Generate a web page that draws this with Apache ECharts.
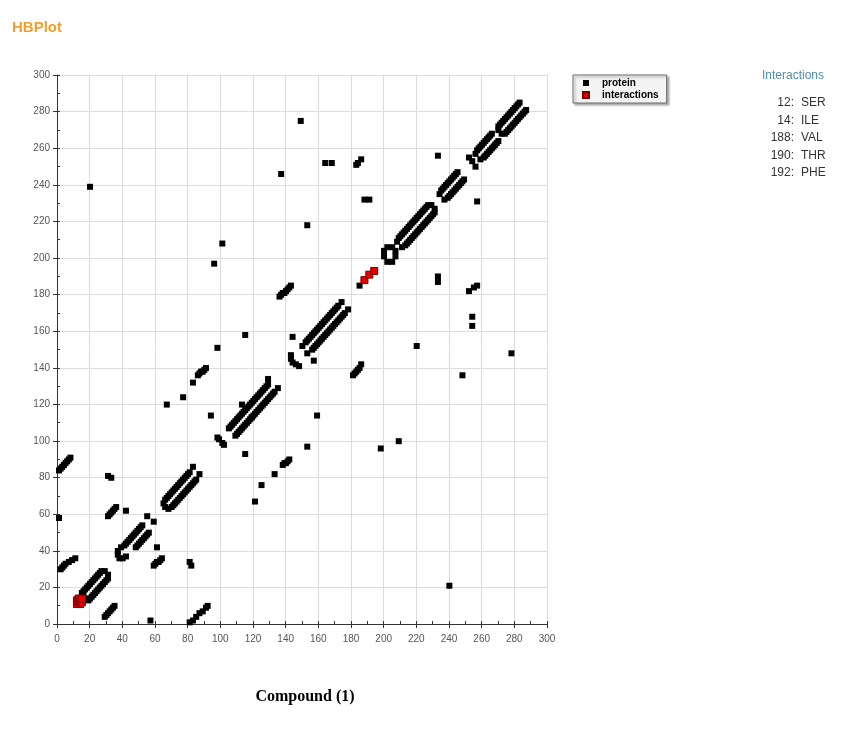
<!DOCTYPE html>
<html>
<head>
<meta charset="utf-8">
<script src="https://cdn.jsdelivr.net/npm/echarts@6/dist/echarts.min.js"></script>
<style>
html,body{margin:0;padding:0;background:#fff;}
#chart{width:841px;height:740px;}
</style>
</head>
<body>
<div id="chart"></div>
<script>
// ---------- axis ----------
const axisMin = 0, axisMax = 300, majorStep = 20, minorStep = 10;

// ---------- legend / panel ----------
const seriesNames = ['protein', 'interactions'];
const interactionResidues = ['12', '14', '188', '190', '192'];
const interactionNames = ['SER', 'ILE', 'VAL', 'THR', 'PHE'];

// ---------- protein contacts: bands along the diagonal ----------
const bandA = [[14,18],[15,19],[16,20],[17,21],[18,22],[19,23],[20,24],[21,25],[22,26],[23,27],[24,28],[25,29],[26,30],
  [18,14],[19,15],[20,16],[21,17],[22,18],[23,19],[24,20],[25,21],[26,22],[27,23],[28,24],[29,25],[30,26],
  [15,16],[16,15],[28,30],[30,28]];
const bandB = [[40,44],[41,45],[42,46],[43,47],[44,48],[45,49],[46,50],[47,51],[48,52],[49,53],[50,54],[51,55],
  [47,43],[48,44],[49,45],[50,46],[51,47],[52,48],[53,49],[54,50],[55,51],
  [38,43],[36,41],[36,39],[37,37],[39,37],[41,38]];
const bandC = [[65,69],[66,70],[67,71],[68,72],[69,73],[70,74],[71,75],[72,76],[73,77],[74,78],[75,79],[76,80],[77,81],[78,82],[79,83],[80,84],
  [69,65],[70,66],[71,67],[72,68],[73,69],[74,70],[75,71],[76,72],[77,73],[78,74],[79,75],[80,76],[81,77],[82,78],[83,79],[84,80],
  [64,67],[65,65],[67,64],[82,87],[86,83]];
const bandD = [[97,103],[98,102],[100,100],[101,99]];
const bandE = [[104,108],[105,109],[106,110],[107,111],[108,112],[109,113],[110,114],[111,115],[112,116],[113,117],[114,118],[115,119],[116,120],[117,121],[118,122],[119,123],[120,124],[121,125],[122,126],[123,127],[124,128],[125,129],[126,130],[127,131],[128,132],
  [108,104],[109,105],[110,106],[111,107],[112,108],[113,109],[114,110],[115,111],[116,112],[117,113],[118,114],[119,115],[120,116],[121,117],[122,118],[123,119],[124,120],[125,121],[126,122],[127,123],[128,124],[129,125],[130,126],[131,127],[132,128],
  [112,121],[118,114],[128,135],[134,130]];
const bandF = [[142,148],[142,146],[143,144],[145,143],[147,142]];
const bandG = [[151,155],[152,156],[153,157],[154,158],[155,159],[156,160],[157,161],[158,162],[159,163],[160,164],[161,165],[162,166],[163,167],[164,168],[165,169],[166,170],[167,171],[168,172],[169,173],[170,174],[171,175],
  [155,151],[156,152],[157,153],[158,154],[159,155],[160,156],[161,157],[162,158],[163,159],[164,160],[165,161],[166,162],[167,163],[168,164],[169,165],[170,166],[171,167],[172,168],[173,169],[174,170],[175,171],
  [149,153],[152,149],[173,177],[177,173],[184,186]];
const bandJ = [[199,202],[199,205],[201,207],[204,207],[206,205],[206,202],[204,199],[201,199]];
const bandK = [[208,212],[209,213],[210,214],[211,215],[212,216],[213,217],[214,218],[215,219],[216,220],[217,221],[218,222],[219,223],[220,224],[221,225],[222,226],[223,227],[224,228],[225,229],[226,230],
  [212,208],[213,209],[214,210],[215,211],[216,212],[217,213],[218,214],[219,215],[220,216],[221,217],[222,218],[223,219],[224,220],[225,221],[226,222],[227,223],[228,224],[229,225],[230,226],
  [207,210],[210,207],[228,230],[230,228]];
const bandL = [[234,238],[235,239],[236,240],[237,241],[238,242],[239,243],[240,244],[241,245],[242,246],[243,247],[244,248],
  [238,234],[239,235],[240,236],[241,237],[242,238],[243,239],[244,240],[245,241],[246,242],[247,243],[248,244],
  [233,236],[236,233]];
const bandM = [[251,256],[253,254],[255,251]];
const bandN = [[256,260],[257,261],[258,262],[259,263],[260,264],[261,265],[262,266],[263,267],[264,268],[265,269],
  [260,256],[261,257],[262,258],[263,259],[264,260],[265,261],[266,262],[267,263],[268,264],[269,265],
  [255,258],[258,255]];
const bandO = [[269,273],[270,274],[271,275],[272,276],[273,277],[274,278],[275,279],[276,280],[277,281],[278,282],[279,283],[280,284],[281,285],[282,286],
  [273,269],[274,270],[275,271],[276,272],[277,273],[278,274],[279,275],[280,276],[281,277],[282,278],[283,279],[284,280],[285,281],[286,282],
  [269,271],[271,269]];

// ---------- protein contacts: away from the diagonal ----------
const offUpper = [[0,59],[0,85],[1,86],[2,87],[3,88],[4,89],[5,90],[6,91],[7,92],
  [1,31],[2,32],[3,33],[4,34],[6,35],[8,36],[10,37],
  [19,240],[30,82],[32,81],
  [30,60],[31,61],[32,62],[33,63],[34,64],[35,65],
  [41,63],[54,60],[66,121],[76,125],[82,133],
  [85,137],[86,138],[87,139],[88,139],[89,140],[90,141],
  [93,115],[97,152],[114,159],[95,198],[100,209],
  [135,180],[136,181],[137,182],[138,182],[139,183],[140,184],[141,185],[142,186],
  [136,247],[148,276],[152,219],[163,253],[167,253],
  [182,252],[183,253],[185,255],[187,233],[190,233],[232,257],[143,158]];
const offLower = [[56,3],
  [80,2],[82,3],[84,5],[86,7],[88,8],[90,10],[91,11],
  [28,5],[29,6],[30,7],[31,8],[32,9],[33,10],[34,11],
  [239,22],[80,35],[81,33],
  [58,33],[59,34],[60,35],[61,35],[62,36],[63,37],
  [60,43],[58,57],[120,68],[124,77],[132,83],
  [137,88],[138,89],[139,89],[140,90],[141,91],
  [114,94],[152,98],[158,115],[197,97],[208,101],
  [180,137],[181,138],[182,139],[183,140],[184,141],[185,143],
  [247,137],[277,149],[219,153],[253,169],[253,164],
  [251,183],[254,185],[256,186],[232,191],[232,188],[256,232],[156,145]];

// ---------- interaction contacts ----------
const interactionContacts = [[11,12],[11,14],[12,13],[12,15],[13,12],[13,14],[14,13],[14,15],
  [187,189],[190,192],[193,194]];

const proteinContacts = [].concat(bandA, bandB, bandC, bandD, bandE, bandF, bandG, bandJ, bandK, bandL, bandM, bandN, bandO, offUpper, offLower);

const chart = echarts.init(document.getElementById('chart'), null, {renderer: 'canvas'});

const labelFont = {fontFamily: 'Liberation Sans, Arial, sans-serif', fontSize: 10, color: '#555'};

const graphics = [
  {type: 'text', left: 12, top: 20, style: {text: 'HBPlot', font: 'bold 15px "Liberation Sans", Arial, sans-serif', fill: '#f0a030'}},
  {type: 'text', left: 762, top: 70, style: {text: 'Interactions', font: '12px "Liberation Sans", Arial, sans-serif', fill: '#4f8db3'}},
  {type: 'text', style: {text: 'Compound (1)', x: 305, y: 697, textAlign: 'center', textVerticalAlign: 'middle', font: 'bold 16px "Liberation Serif", "Times New Roman", serif', fill: '#000'}}
];
interactionResidues.forEach(function (r, k) {
  const yy = 103 + k * 17.5;
  graphics.push({type: 'text', style: {text: r + ':', x: 794, y: yy, textAlign: 'right', textVerticalAlign: 'middle', font: '12px "Liberation Sans", Arial, sans-serif', fill: '#333'}});
  graphics.push({type: 'text', style: {text: interactionNames[k], x: 801, y: yy, textAlign: 'left', textVerticalAlign: 'middle', font: '12px "Liberation Sans", Arial, sans-serif', fill: '#333'}});
});

chart.setOption({
  animation: false,
  backgroundColor: '#fff',
  grid: {left: 57, right: 294, top: 75, bottom: 116, containLabel: false},
  legend: {
    orient: 'vertical', left: 573, top: 75,
    data: seriesNames,
    icon: 'rect', itemWidth: 6, itemHeight: 6, itemGap: 2,
    padding: [3, 8, 3, 9],
    backgroundColor: '#f4f4f4', borderColor: '#666', borderWidth: 1,
    shadowColor: 'rgba(0,0,0,0.3)', shadowBlur: 2, shadowOffsetX: 2, shadowOffsetY: 2,
    textStyle: {fontFamily: 'Liberation Sans, Arial, sans-serif', fontSize: 10, fontWeight: 'bold', color: '#000', lineHeight: 10, padding: [0, 0, 0, 8]}
  },
  xAxis: [
    {type: 'value', min: axisMin, max: axisMax, interval: majorStep,
     axisLine: {show: true, onZero: false, lineStyle: {color: '#333', width: 1}},
     axisTick: {show: true, length: 4, lineStyle: {color: '#333'}},
     axisLabel: Object.assign({margin: 10}, labelFont),
     splitLine: {show: true, lineStyle: {color: '#dcdcdc', width: 1}}},
    {type: 'value', min: axisMin, max: axisMax, interval: minorStep, position: 'bottom',
     axisLine: {show: false}, axisLabel: {show: false}, splitLine: {show: false},
     axisTick: {show: true, inside: true, length: 3, lineStyle: {color: '#333'}}}
  ],
  yAxis: [
    {type: 'value', min: axisMin, max: axisMax, interval: majorStep,
     axisLine: {show: true, onZero: false, lineStyle: {color: '#333', width: 1}},
     axisTick: {show: true, length: 4, lineStyle: {color: '#333'}},
     axisLabel: Object.assign({margin: 7}, labelFont),
     splitLine: {show: true, lineStyle: {color: '#dcdcdc', width: 1}}},
    {type: 'value', min: axisMin, max: axisMax, interval: minorStep, position: 'left',
     axisLine: {show: false}, axisLabel: {show: false}, splitLine: {show: false},
     axisTick: {show: true, inside: true, length: 3, lineStyle: {color: '#333'}}}
  ],
  series: [
    {name: seriesNames[0], type: 'scatter', xAxisIndex: 0, yAxisIndex: 0,
     symbol: 'rect', symbolSize: 6, symbolOffset: [2, 2], clip: false, silent: true,
     itemStyle: {color: '#000', opacity: 1},
     data: proteinContacts},
    {name: seriesNames[1], type: 'scatter', xAxisIndex: 0, yAxisIndex: 0,
     symbol: 'rect', symbolSize: 7, symbolOffset: [2, 2], clip: false, silent: true,
     itemStyle: {color: '#e60000', borderColor: '#7a0000', borderWidth: 1, opacity: 1},
     data: interactionContacts}
  ],
  graphic: graphics
});
</script>
</body>
</html>
